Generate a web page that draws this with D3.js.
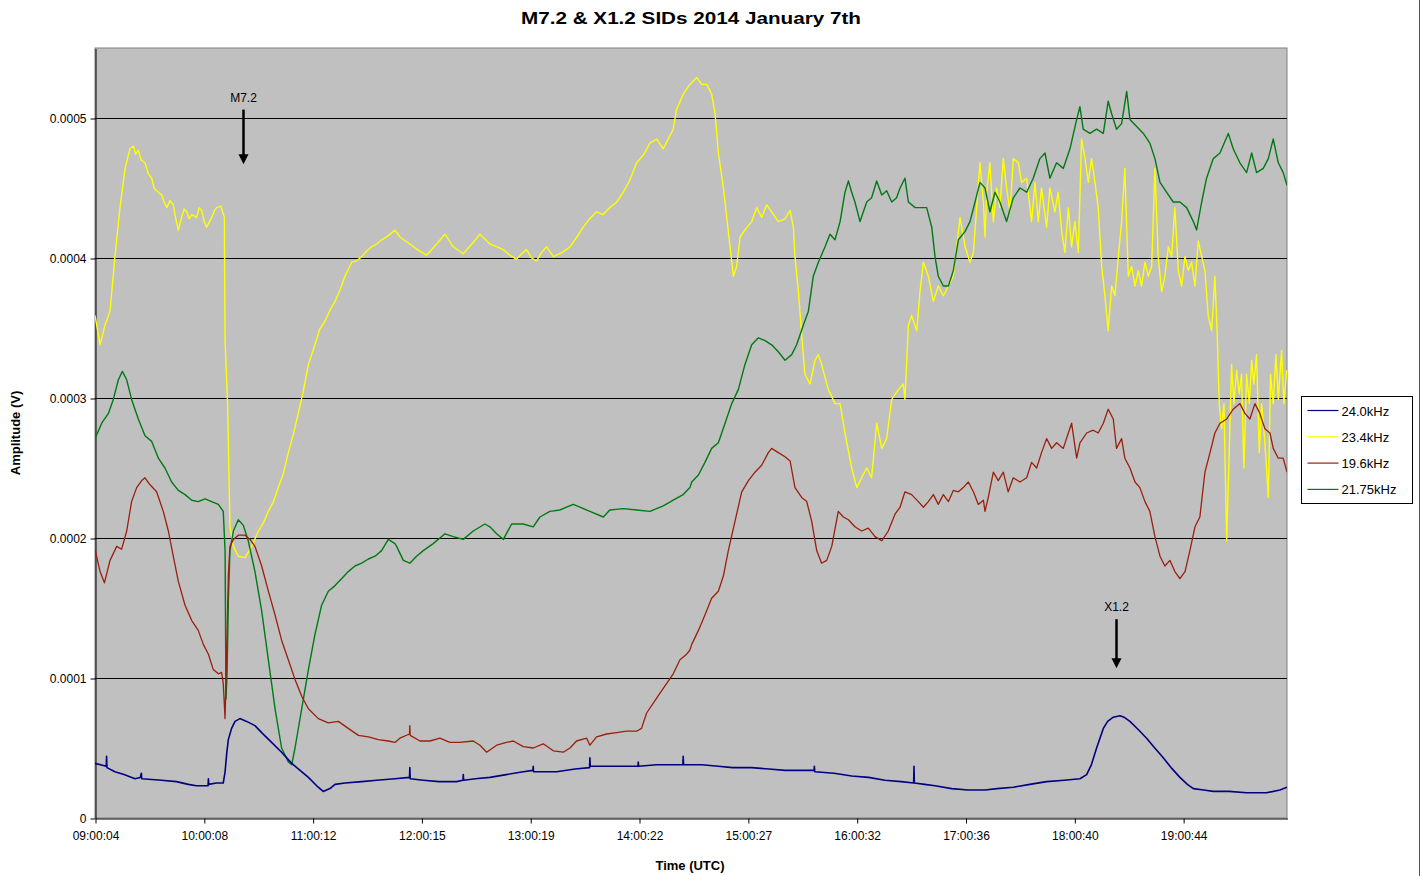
<!DOCTYPE html>
<html>
<head>
<meta charset="utf-8">
<script src="https://cdn.jsdelivr.net/npm/d3@7"></script>
<style>
  html, body { margin: 0; padding: 0; background: #ffffff; }
  svg { display: block; font-family: "Liberation Sans", Arial, sans-serif; }
</style>
</head>
<body>
<svg id="chart" width="1424" height="876"></svg>
<script>
// Amplitudes are in microvolts (1 µV = 0.000001 V); times are minutes after 09:00:04 UTC.
const title = "M7.2 & X1.2 SIDs 2014 January 7th";
const xTickLabels = ["09:00:04", "10:00:08", "11:00:12", "12:00:15", "13:00:19", "14:00:22", "15:00:27", "16:00:32", "17:00:36", "18:00:40", "19:00:44"];
const yTicks = [0, 100, 200, 300, 400, 500];
const yTickLabels = ["0", "0.0001", "0.0002", "0.0003", "0.0004", "0.0005"];
const seriesNames = ["24.0kHz", "23.4kHz", "19.6kHz", "21.75kHz"];
const seriesColors = ["#000080", "#ffff00", "#9a1f0c", "#007a12"];
const seriesWidths = [1.6, 1.4, 1.3, 1.4];

const s24_0 = [[0,39],[6.2,37],[6.4,44],[6.6,36],[11,33],[16,31],[22.1,28],[25,29],[25.6,32],[25.8,28],[36.8,27],[45,26],[51.5,24],[56,23],[60.7,23],[62.4,23],[62.6,28],[62.8,24],[67,25],[70.8,25],[71.8,33],[72.7,46],[73.6,56],[75.4,64],[77.3,69],[80,71],[83.7,69],[88.3,66],[92,61],[97.5,54],[103,47],[108.6,39],[113.2,34],[117.8,29],[122.4,23],[126,19],[129.7,21],[132.5,24],[138,25],[147.2,26],[155.5,27],[165.6,28],
  [173.6,29],[173.8,36],[174,28],[181.2,27],[190,26],[199.6,26],[203.1,27],[203.3,31],[203.5,27],[210,28],[218,29],[227,31],[236.4,33],[241.7,34],[241.9,37],[242.1,33],[254.8,33],[265,35],[273,36],[273.2,43],[273.4,37],[280.6,37],[291.6,37],[299.7,37],[299.9,40],[300.1,37],[310,38],[318,38],[324.5,38],[324.7,44],[324.9,38],[328.4,38],
  [335,38],[344.1,37],[352,36],[362.5,36],[372,35],[380.9,34],[396.9,34],[397.1,37],[397.3,33],[408,32],[417.7,30],[427,29],[436.1,27],[445,26],[451.9,25],[452.1,37],[452.3,25],[458,24],[463.7,23],[472.9,21],[482,20],[491.3,20],
  [498,21],[506.9,22],[516,24],[525.3,26],[535,27],[543.7,28],[547.4,31],[550,38],[552.9,50],[556.6,64],[559,69],[562.1,72],[565.8,73],[568,72],[571.3,69],[576,63],[580.5,57],[585,50],[589.7,43],[594,36],[598.9,29],[603,24],[606.3,21],[612,20],[617.3,19],[626,19],[635.7,18],[646.7,18],[654.1,20],[658,22]];

const s23_4 = [[0,359],[2.8,338],[5.5,352],[8.3,362],[11,401],[13.8,436],[16.6,464],[19.3,478],[21.2,480],[22.5,474],[23.9,477],[25.5,470],[27.6,468],[29.5,460],[31.3,457],[32.6,450],[34,448],[36.8,445],[38.2,440],[39.6,436],[41.4,441],[43.2,438],[44.6,428],[46,420],[47.8,429],[49.2,435],[50.6,433],[52,428],[53.4,431],[56.1,429],[57.5,436],[58.9,434],[60.3,426],[61.6,422],[64.4,429],[66,434],[67.2,436],[69.5,437],[71.4,429],[71.8,341],[73.2,296],[74.5,208],[76.4,194],[79.1,187],[82.8,186],[86.5,194],[90.2,205],[93,211],[95.7,219],[98.5,226],[101.2,236],[104,246],[106.7,261],[109.5,274],[112.2,289],[115,305],[117.8,324],[121.4,338],[124,349],[127,355],[129.8,363],[132.5,369],[135.2,377],[138,387],[141.7,397],[144.5,398],[147.2,401],[150,405],[152.7,408],[155.5,410],[158.2,413],[162,416],[165.6,420],
  [168.3,415],[173.8,410],[178,406],[183,402],[188.6,410],[193.2,417],[197.8,408],[203.3,403],[208,410],[212.5,417],[218,410],[222,408],[225.4,406],[229,402],[232.7,399],[235.5,403],[238.2,406],[241,400],[243.8,398],[246.5,404],[249.3,408],[253,401],[258,404],[262.2,408],[266,415],[269.5,422],[273,428],[276.9,433],[280.5,431],[284.2,436],[288,440],[291.6,447],[295,455],[299,468],[303,474],[306.3,482],[310,485],[313.7,478],[316,484],[319.2,492],[321,506],[324.7,517],[328.4,524],
  [332.1,529],[334.9,524],[337.7,524],[340.4,517],[342.3,503],[344.1,475],[346.9,450],[349.6,419],[352.4,387],[354.2,394],[356.1,415],[358.8,420],[362.5,426],[365.3,436],[368,429],[370.8,438],[373.5,433],[377.2,426],[380.9,428],[383.7,434],[385.5,422],[386.4,401],[388.3,376],[390.1,345],[391.9,317],[394.7,310],[397.5,327],[399.3,331],[401.1,324],[404.8,306],[408.5,296],[411.3,296],[414,275],[417.7,250],[420.5,236],[423.2,243],[426,250],[428.7,243],[431.5,282],[434.3,264],[437,271],[439.8,299],[443.5,306],[446.2,310],[447.1,299],[449,352],[450.8,359],[453.6,348],[455.4,376],[457.3,397],[460,387],[462.8,369],[465.5,380],[468.3,373],[471.1,380],[473.8,387],[475.7,408],[477.5,429],[480.3,408],[483,397],[484.9,404],[486.7,436],[488.5,468],[490.4,440],[491.3,415],
  [492.2,447],[494,468],[495.9,426],[497.7,450],[499.5,436],[501.4,471],[503.2,450],[505.1,433],[506.9,471],[509.7,468],[511.5,454],[514.3,457],[517,426],[518.9,454],[520.7,426],[522.5,450],[525.3,422],[527.1,450],[529.9,433],[531.7,447],[533.6,419],[535.4,404],[537.3,436],[539.1,408],[540.9,426],[542.8,404],[544.6,485],[546.5,471],[548.3,454],[550.1,471],[552,454],[553.8,436],[555.7,394],[557.5,373],[559.3,348],[561.2,380],[563,373],[564.9,401],[566.7,426],[568.5,464],[570.4,387],[572.2,394],[574.1,380],[575.9,391],[577.7,380],[579.6,397],[581.4,387],[583.3,394],[585.1,464],[586.9,401],[588.8,376],[590.6,387],[592.5,408],[594.3,401],[596.1,436],[598,391],[599.8,380],[601.7,401],[603.5,391],[605.3,397],[607.2,380],[609,412],[610.9,401],[612.7,391],[614.5,359],[616.4,348],[618.2,387],[619.5,345],[620.6,296],[621.9,278],[623.2,296],[624.7,198],[626.1,261],[627.4,324],[628.7,296],[630.2,320],[631.6,303],[632.9,317],[634.2,250],[635.7,317],[637.2,296],[638.5,327],[639.7,310],[641.2,331],[642.7,261],[644,296],[645.8,268],[647.7,229],[648.9,317],[650.4,296],[651.9,331],[653.2,299],[655,334],[656.3,296],[657.8,320]];

const s19_6 = [[0,192],[2.8,176],[5.2,168],[8.3,184],[12,194],[14.7,192],[17.5,205],[20.2,226],[23,236],[25.8,241],[27.6,243],[30.4,238],[34,233],[37.7,219],[40.5,205],[43.2,187],[46,169],[49.7,152],[53.4,141],[57,134],[59.8,124],[62.6,117],[65.3,106],[68.1,103],[69.9,104],[70.8,96],[71.8,71],[72.7,120],[73.6,173],[74.5,194],[76.4,199],[79.1,202],[82.8,202],[85.6,199],[88.3,194],[92,180],[95.7,162],[99.4,145],[103,127],[106.7,113],[110.4,99],[114.1,87],[117.8,78],[123.3,71],[128.8,68],[134.3,69],[139.8,64],[145.4,59],[150.9,58],[156.4,56],[161.9,55],[165.6,54],
  [168.3,57],[173.6,60],[173.8,66],[174,59],[179.4,55],[184.9,55],[190.4,57],[195.9,54],[201.4,54],[208.8,55],[212.5,52],[216.2,47],[221.7,52],[227.2,54],[230.9,55],[236.4,51],[241.9,50],[247.4,53],[253,48],[258.5,47],[262.2,50],[265.8,55],[271.4,57],[273.2,52],[276.9,58],[282.4,60],[287.9,61],[293.4,62],[299,62],[301.7,64],[304.5,75],[308.2,82],[311.8,89],[315.5,96],[319.2,103],[322.9,113],[326.6,117],[328.4,120],
  [329.4,124],[333.1,134],[336.7,145],[340.4,157],[344.1,162],[346.9,173],[349.6,191],[353.3,212],[357,233],[360.7,241],[364.3,247],[368,252],[371.7,261],[373.5,264],[377.2,261],[380.9,258],[383.7,255],[386.4,236],[390.1,229],[392.9,226],[395.6,212],[398.4,191],[401.1,182],[403.9,184],[406.7,194],[410.3,219],[413.1,215],[415.9,213],[419.5,208],[423.2,205],[426.9,207],[430.6,201],[434.3,198],[437.9,205],[441.6,217],[444.4,222],[447.1,233],[450.8,231],[454.5,226],[457.3,222],[460,226],[462.8,231],[465.5,224],[468.3,231],[471.1,226],[473.8,234],[476.6,233],[479.3,236],[482.1,240],[484.9,233],[487.6,224],[490.4,227],
  [491.3,219],[493.1,229],[495.9,247],[498.6,241],[501.4,247],[504.1,233],[506.9,243],[510.6,240],[514.3,243],[517,254],[519.8,250],[522.5,261],[525.3,271],[528.1,264],[530.8,268],[534.5,264],[537.3,275],[539.1,282],[541.9,257],[543.7,268],[547.4,275],[551,277],[553.8,275],[556.6,282],[559.3,292],[562.1,285],[563.9,264],[566.7,271],[568.5,257],[571.3,250],[574.1,240],[576.8,236],[579.6,226],[582.3,219],[585.1,201],[587.9,187],[590.6,180],[593.4,184],[596.1,176],[598.9,171],[601.7,176],[604.4,191],[607.2,208],[609.9,215],[612.7,247],[615.5,261],[618.2,275],[621,282],[624.7,285],[628.3,292],[632,296],[634.8,289],[637.5,285],[640.3,296],[643,289],[645.8,278],[648.6,275],[650.4,264],[653.2,257],[655.9,257],[658,247]];

const s21_75 = [[0,271],[3.7,282],[7.4,289],[10.1,299],[12.9,313],[15.1,319],[17.5,313],[20.2,299],[23.9,285],[27.6,273],[31.3,269],[35,257],[38.6,250],[42.3,240],[46,234],[49.7,231],[53.4,227],[57,226],[60.7,228],[64.4,226],[68.1,224],[70.8,219],[71.8,191],[72.3,85],[72.9,103],[73.6,155],[74.5,191],[76.4,205],[79.1,213],[81.9,209],[84.6,198],[88.3,176],[92,148],[95.7,113],[99.4,78],[103,50],[106.7,40],[108.6,38],[110.4,50],[114.1,78],[117.8,106],[121.4,131],[125.1,152],[128.8,162],[132.5,166],[136.2,171],[139.8,176],[143.5,180],[147.2,182],[150.9,185],[154.6,187],[158.2,191],[161.9,199],[165.6,196],
  [166.5,194],[170.2,184],[173.8,182],[177.5,187],[181.2,191],[186.7,196],[193.2,203],[197.8,201],[203.3,199],[208.8,205],[215.2,210],[218,208],[221.7,203],[225.4,199],[230,210],[236.4,210],[241.9,208],[245.6,215],[251.1,219],[256.6,220],[264,224],[267.7,222],[273.2,219],[280.6,215],[284.2,220],[291.6,221],[299,220],[306.3,219],[313.7,223],[319.2,227],[324.7,231],[328.4,236],
  [329.4,240],[333.1,245],[336.7,254],[340.4,264],[344.1,268],[347.8,282],[351.5,296],[355.1,306],[358.8,324],[362.5,338],[366.2,343],[369.9,341],[373.5,338],[377.2,333],[380.9,327],[384.6,331],[387.3,338],[391,352],[393.8,362],[396.5,387],[399.3,397],[403,408],[405.7,417],[408.5,413],[411.3,426],[414,447],[415.9,455],[417.7,447],[419.5,440],[422.3,426],[426,440],[428.7,443],[431.5,455],[434.3,445],[437,448],[439.8,440],[442.5,443],[444.4,450],[447.1,457],[449,440],[452.7,436],[456.3,436],[459.1,436],[461.9,422],[463.7,401],[465.5,387],[468.3,380],[471.1,380],[473.8,391],[476.6,413],[480.3,419],[483,426],[485.8,440],[488.5,454],[491.3,450],
  [494,433],[496.8,447],[499.5,440],[503.2,426],[506.9,443],[510.6,450],[514.3,447],[517.9,457],[521.6,471],[524.4,475],[527.1,457],[530.8,468],[534.5,464],[538.2,478],[541.9,499],[543.7,508],[545.5,492],[549.2,489],[552.9,492],[556.6,489],[559.3,512],[561.2,503],[563.9,492],[566.7,496],[569.5,519],[571.3,499],[575,494],[578.7,489],[582.3,482],[585.1,471],[587.9,454],[591.5,447],[595.2,440],[598.9,440],[602.6,436],[606.3,426],[608.1,420],[610.9,440],[613.6,457],[617.3,471],[621,475],[625.6,489],[628.3,478],[632,468],[635.7,461],[638.5,475],[641.2,461],[644.9,464],[647.7,471],[650.4,485],[653.2,468],[655.9,461],[658,452]];

// Flare markers: label, time of the arrow, arrow top and tip (µV)
const flareLabels = ["M7.2", "X1.2"];
const flareTimes = [81.7, 563.6];
const flareArrowTop = [506, 142];
const flareArrowTip = [467, 107];

const series = [s24_0, s23_4, s19_6, s21_75];

const svg = d3.select("#chart");
const W = 1424, H = 876;
const plot = { left: 95, right: 1287, top: 48, bottom: 818 };

const toMinutes = s => {
  const [h, m, sec] = s.split(":").map(Number);
  return (h - 9) * 60 + m + sec / 60 - 4 / 60;
};

const x = d3.scaleLinear().domain([0, 658]).range([plot.left, plot.right]);
const y = d3.scaleLinear().domain([0, 550]).range([plot.bottom, plot.top]);

// outer frame line on the right
svg.append("line").attr("x1", 1419.5).attr("x2", 1419.5).attr("y1", 0).attr("y2", H)
  .attr("stroke", "#555").attr("stroke-width", 1);

// plot area
svg.append("rect")
  .attr("x", plot.left).attr("y", plot.top)
  .attr("width", plot.right - plot.left).attr("height", plot.bottom - plot.top)
  .attr("fill", "#c0c0c0").attr("stroke", "#808080").attr("stroke-width", 1);

// horizontal grid lines
svg.append("g").selectAll("line").data(yTicks.filter(d => d > 0)).join("line")
  .attr("x1", plot.left).attr("x2", plot.right)
  .attr("y1", d => Math.round(y(d)) + 0.5).attr("y2", d => Math.round(y(d)) + 0.5)
  .attr("stroke", "#000").attr("stroke-width", 1);

// y axis
const yAxis = d3.axisLeft(y).tickValues(yTicks).tickSize(5).tickSizeOuter(0).tickPadding(4)
  .tickFormat((d, i) => yTickLabels[i]);
const gy = svg.append("g").attr("transform", `translate(${plot.left + 0.5},0.5)`).call(yAxis);
gy.select(".domain").attr("stroke", "#000");
gy.selectAll("text").attr("font-size", 12).attr("fill", "#000")
  .attr("font-family", "'Liberation Sans', Arial, sans-serif");

// x axis
const xAxis = d3.axisBottom(x).tickValues(xTickLabels.map(toMinutes)).tickSize(5).tickSizeOuter(0).tickPadding(8)
  .tickFormat((d, i) => xTickLabels[i]);
const gx = svg.append("g").attr("transform", `translate(0.5,${plot.bottom + 0.5})`).call(xAxis);
gx.select(".domain").attr("stroke", "#000");
gx.selectAll("text").attr("font-size", 12).attr("fill", "#000")
  .attr("font-family", "'Liberation Sans', Arial, sans-serif");

// data lines
svg.append("defs").append("clipPath").attr("id", "clip")
  .append("rect").attr("x", plot.left).attr("y", plot.top)
  .attr("width", plot.right - plot.left).attr("height", plot.bottom - plot.top);

const line = d3.line().x(d => x(d[0])).y(d => y(d[1]));
const drawOrder = [1, 3, 2, 0];
svg.append("g").attr("clip-path", "url(#clip)")
  .selectAll("path").data(drawOrder).join("path")
  .attr("d", i => line(series[i]))
  .attr("fill", "none")
  .attr("stroke", i => seriesColors[i])
  .attr("stroke-width", i => seriesWidths[i])
  .attr("stroke-linejoin", "round");

// flare arrows
const ann = svg.append("g");
flareLabels.forEach((lab, i) => {
  const ax = Math.round(x(flareTimes[i])) + 0.5;
  const yTop = y(flareArrowTop[i]);
  const yTip = y(flareArrowTip[i]);
  ann.append("text").attr("x", ax).attr("y", yTop - 8)
    .attr("text-anchor", "middle").attr("font-size", 12).attr("fill", "#000").text(lab);
  ann.append("line").attr("x1", ax).attr("x2", ax).attr("y1", yTop).attr("y2", yTip - 8)
    .attr("stroke", "#000").attr("stroke-width", 2.5);
  ann.append("path")
    .attr("d", `M${ax - 5},${yTip - 10}L${ax + 5},${yTip - 10}L${ax},${yTip}Z`)
    .attr("fill", "#000");
});

// title
svg.append("text").attr("x", 691).attr("y", 24).attr("text-anchor", "middle")
  .attr("font-size", 17).attr("font-weight", "bold").attr("fill", "#000")
  .attr("textLength", 340).attr("lengthAdjust", "spacingAndGlyphs")
  .text(title);

// axis titles
svg.append("text").attr("x", 690).attr("y", 870).attr("text-anchor", "middle")
  .attr("font-size", 13).attr("font-weight", "bold").text("Time (UTC)");
svg.append("text").attr("transform", "translate(20,433) rotate(-90)").attr("text-anchor", "middle")
  .attr("font-size", 13).attr("font-weight", "bold").text("Amplitude (V)");

// legend
const lg = svg.append("g").attr("transform", "translate(1301.5,396.5)");
lg.append("rect").attr("width", 111).attr("height", 107)
  .attr("fill", "#fff").attr("stroke", "#000").attr("stroke-width", 1);
seriesNames.forEach((name, i) => {
  const ly = 14 + i * 26.3;
  lg.append("line").attr("x1", 6).attr("x2", 37).attr("y1", ly).attr("y2", ly)
    .attr("stroke", seriesColors[i]).attr("stroke-width", 1.2);
  lg.append("text").attr("x", 40).attr("y", ly + 5).attr("font-size", 13)
    .attr("fill", "#000").text(name);
});
</script>
</body>
</html>
